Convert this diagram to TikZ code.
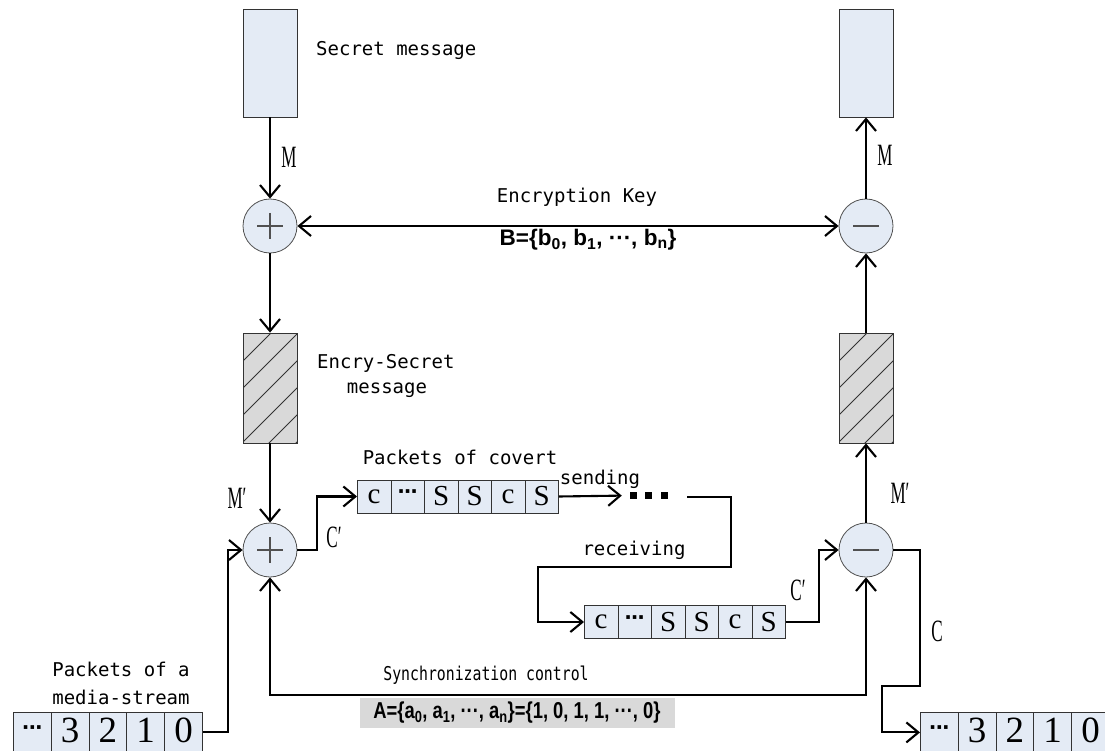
\documentclass[tikz,border=0pt]{standalone}
\usepackage{fontspec}
\setmainfont{Liberation Serif}
\newfontfamily\monofont{DejaVu Sans Mono}
\newfontfamily\keyfont{Liberation Sans}
\newfontfamily\dotfont{DejaVu Sans}
\usetikzlibrary{arrows.meta,calc}

\definecolor{cellblue}{HTML}{E4EBF5}
\definecolor{hatchgray}{HTML}{D9D9D9}
\definecolor{rimgray}{HTML}{505050}

% horizontally condensed text
\newcommand\narrowed[2][0.55]{\scalebox{#1}[1]{#2}}
\newcommand\celldots{{\dotfont\bfseries\fontsize{20}{20}\selectfont ·\kern-1pt·\kern-1pt·}}

\tikzset{
  flow/.style={line width=2.1pt, -{Straight Barb[length=12pt,width=20pt]}},
  twoway/.style={line width=2.1pt, {Straight Barb[length=12pt,width=20pt]}-{Straight Barb[length=12pt,width=20pt]}},
  msgbox/.style={draw=black!80, line width=0.8pt, fill=cellblue,
    minimum width=54, minimum height=108, inner sep=0},
  hatchbox/.style={draw=black!80, line width=0.8pt, fill=hatchgray,
    minimum width=54, minimum height=110, inner sep=0,
    path picture={
      \foreach \k in {-6,...,6}
        \draw[black!80, line width=0.8pt]
          ($(path picture bounding box.center)+(-60,60+27*\k)$) --
          ($(path picture bounding box.center)+(60,-60+27*\k)$);
    }},
  opnode/.style={circle, draw=rimgray, line width=0.8pt, fill=cellblue,
    minimum size=54, inner sep=0},
  plusop/.style={opnode, path picture={
      \draw[line width=1.3pt]
        ($(path picture bounding box.center)+(-13,0)$) -- ($(path picture bounding box.center)+(13,0)$)
        ($(path picture bounding box.center)+(0,-13)$) -- ($(path picture bounding box.center)+(0,13)$);
    }},
  minusop/.style={opnode, path picture={
      \draw[line width=2pt]
        ($(path picture bounding box.center)+(-13,0)$) -- ($(path picture bounding box.center)+(13,0)$);
    }},
  pkt/.style={draw=black!80, line width=0.8pt, fill=cellblue,
    minimum width=33.5, minimum height=33, inner sep=0, anchor=west,
    font=\fontsize{29}{29}\selectfont},
  bigcell/.style={draw=black!80, line width=0.8pt, fill=cellblue,
    minimum width=37.8, minimum height=40, inner sep=0, anchor=north west,
    text height=29pt, text depth=9pt, font=\fontsize{37}{37}\selectfont},
  sqdot/.style={fill=black, minimum size=7, inner sep=0},
  mono/.style={font=\monofont\fontsize{19}{22}\selectfont, inner sep=0},
  sym/.style={font=\fontsize{31}{31}\selectfont, inner sep=0},
  keytext/.style={font=\keyfont\bfseries\fontsize{22.5}{24}\selectfont, inner sep=0},
}

\begin{document}
\begin{tikzpicture}[x=1pt, y=-1pt]
\clip (0,0) rectangle (1105,751);
\fill[white] (0,0) rectangle (1105,751);

% message blocks
\node[msgbox] (sm) at (270,63) {};
\node[msgbox] (rm) at (866,63) {};
\node[hatchbox] (h1) at (270,388) {};
\node[hatchbox] (h2) at (866,388) {};

% operators
\node[plusop] (c1) at (270,226) {};
\node[minusop] (c2) at (866,226) {};
\node[plusop] (c3) at (270,550) {};
\node[minusop] (c4) at (866,550) {};

% covert packets, sending side
\node[pkt] (u1) at (357,496.5) {c};
\node[pkt] (u2) at (390.5,496.5) {\raisebox{4pt}{\celldots}};
\node[pkt] (u3) at (424,496.5) {S};
\node[pkt] (u4) at (457.5,496.5) {S};
\node[pkt] (u5) at (491,496.5) {c};
\node[pkt] (u6) at (524.5,496.5) {S};

% covert packets, receiving side
\node[pkt] (l1) at (584,622) {c};
\node[pkt] (l2) at (617.5,622) {\raisebox{4pt}{\celldots}};
\node[pkt] (l3) at (651,622) {S};
\node[pkt] (l4) at (684.5,622) {S};
\node[pkt] (l5) at (718,622) {c};
\node[pkt] (l6) at (751.5,622) {S};

% channel gap
\node[sqdot] (sq1) at (633.5,495.5) {};
\node[sqdot] (sq2) at (648.5,495.5) {};
\node[sqdot] (sq3) at (664.5,495.5) {};
\coordinate (rcv) at (687,497);
\coordinate (turn) at (538,567);

% media stream, input and output
\node[bigcell] (b1) at (13,712) {\raisebox{8pt}{\celldots}};
\node[bigcell] (b2) at (50.8,712) {3};
\node[bigcell] (b3) at (88.6,712) {2};
\node[bigcell] (b4) at (126.4,712) {1};
\node[bigcell] (b5) at (164.2,712) {0};
\node[bigcell] (r1) at (920,712) {\raisebox{8pt}{\celldots}};
\node[bigcell] (r2) at (957.8,712) {3};
\node[bigcell] (r3) at (995.6,712) {2};
\node[bigcell] (r4) at (1033.4,712) {1};
\node[bigcell] (r5) at (1071.2,712) {0};
\coordinate (cturn) at (882,686);
\coordinate (sy) at (566,695);

% connectors
\draw[flow] (sm.south) -- (c1.north);
\draw[twoway] (c1.east) -- (c2.west);
\draw[flow] (c1.south) -- (h1.north);
\draw[flow] (h1.south) -- (c3.north);
\draw[flow] (c3.east) -- ++(20,0) |- (u1.west);
\draw[flow, shorten >=8pt] (u6.east) -- (sq1.west);
\draw[flow] (rcv) -- ++(44,0) |- (turn) |- (l1.west);
\draw[flow] (l6.east) -- ++(33,0) |- (c4.west);
\draw[flow] (c4.north) -- (h2.south);
\draw[flow] (h2.north) -- (c2.south);
\draw[flow] (c2.north) -- (rm.south);
\draw[flow] (c4.east) -- ++(27,0) |- (cturn) |- (r1.west);
\draw[flow] (b5.east) -- ++(25,0) |- (c3.west);
\draw[twoway] (c3.south) |- (sy) -| (c4.south);

% labels
\node[mono, anchor=west] (tsecret) at (316,50) {Secret message};
\node[mono] (tkey) at (577,197) {Encryption Key};
\node[keytext] (tb) at (588,240) {B=\{b\textsubscript{0}, b\textsubscript{1}, ···, b\textsubscript{n}\}};
\node[mono, anchor=west] (tenc1) at (317,363) {Encry-Secret};
\node[mono] (tenc2) at (387,390) {message};
\node[mono] (tcov) at (460,457) {Packets of covert};
\node[mono] (tsend) at (600,479) {sending};
\node[mono] (trecv) at (634,550) {receiving};
\node[mono] (tmed1) at (121,669) {Packets of a};
\node[mono] (tmed2) at (121,697) {media-stream};
\node[mono] (tsync) at (486,675) {\narrowed[0.78]{Synchronization control}};
\node[keytext, fill=hatchgray, minimum width=315, minimum height=30, font=\keyfont\bfseries\fontsize{23}{24}\selectfont]
  (ta) at (517,713) {\narrowed[0.8]{A=\{a\textsubscript{0}, a\textsubscript{1}, ···, a\textsubscript{n}\}=\{1, 0, 1, 1, ···, 0\}}};

\node[sym] (lm1) at (289,157) {\narrowed{M}};
\node[sym] (lm2) at (885,155) {\narrowed{M}};
\node[sym] (lmp1) at (237,498) {\narrowed{M′}};
\node[sym] (lmp2) at (900,493) {\narrowed{M′}};
\node[sym] (lcp1) at (334,537) {\narrowed{C′}};
\node[sym] (lcp2) at (798,590) {\narrowed{C′}};
\node[sym] (lc) at (937,631) {\narrowed{C}};
\end{tikzpicture}
\end{document}
